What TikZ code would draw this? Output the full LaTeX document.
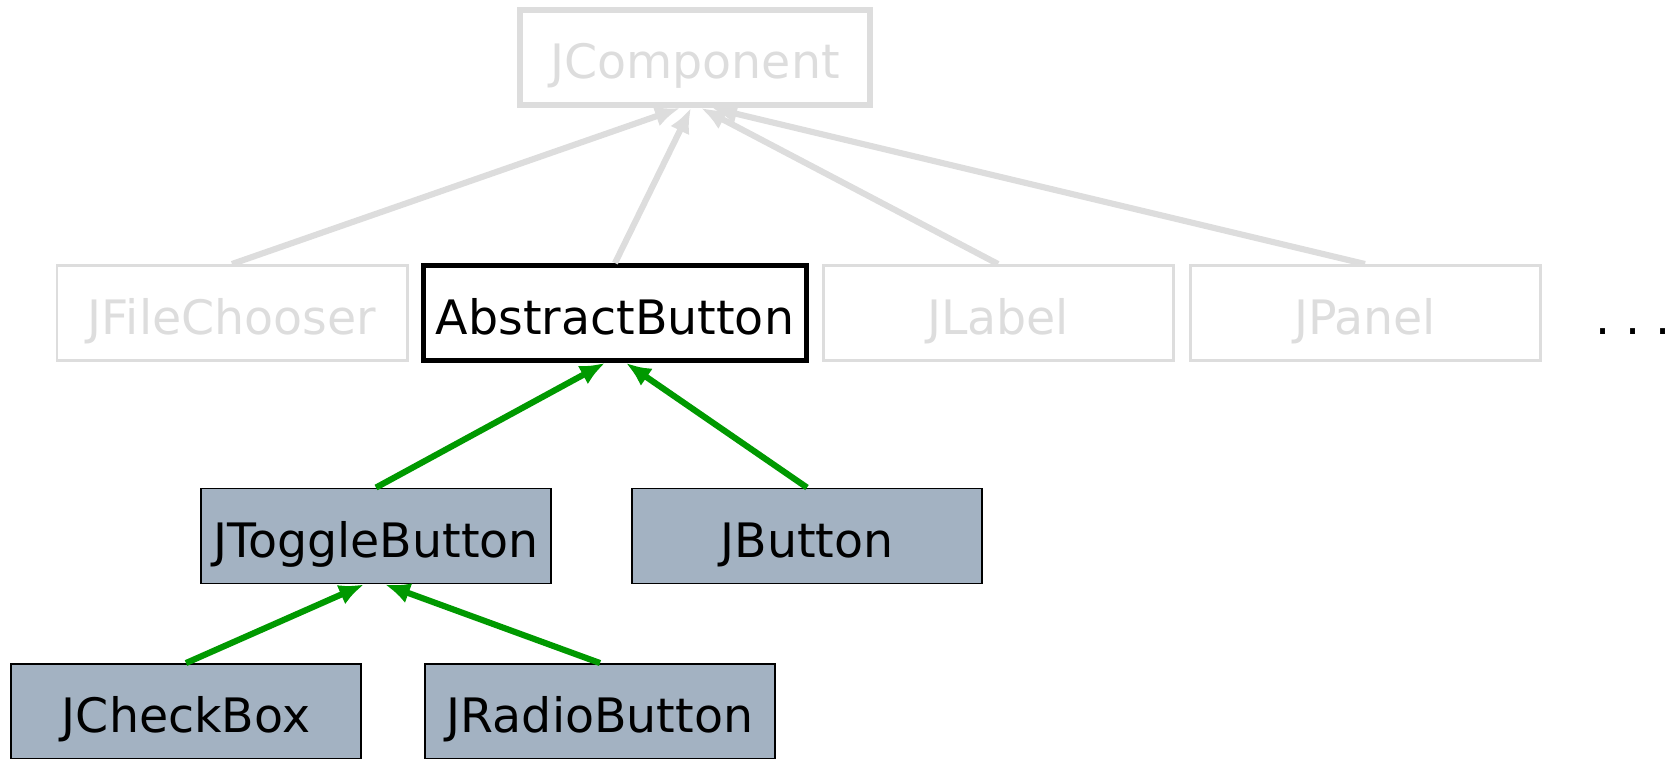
\documentclass[tikz,border=0pt]{standalone}
\usepackage{fontspec}
\setmainfont{DejaVu Sans}
\usetikzlibrary{arrows.meta}
\definecolor{faded}{RGB}{221,221,221}
\definecolor{swing}{RGB}{163,178,194}
\definecolor{isa}{RGB}{0,153,0}

\begin{document}
\begin{tikzpicture}[x=0.2mm, y=-0.2mm,
    font=\fontsize{27}{30}\selectfont,
    box/.style={draw, rectangle, minimum width=7cm, minimum height=1.9cm,
      inner sep=0pt, text height=24pt, text depth=0pt},
    other/.style={box, draw=faded, text=faded, line width=1.7pt},
    swingbox/.style={box, fill=swing, line width=1.1pt},
    up/.style={-{Latex[length=0.5cm, width=0.42cm]}, line width=3.5pt}]
    \useasboundingbox (0,0) rectangle (1679,758);
    \clip (0,0) rectangle (1679,758);

    \node [other, line width=3.4pt] (jcomp) at (695,57.5) {JComponent};
    \node [other] (chooser) at (232,313) {JFileChooser};
    \node [box, line width=2.8pt, minimum width=7.66cm] (abstract) at (615,313) {AbstractButton};
    \node [other] (label) at (998,313) {JLabel};
    \node [other] (panel) at (1365,313) {JPanel};
    \node [anchor=base] (more) at (1633,334) {.\ .\ .};
    \node [swingbox] (toggle) at (376,536) {JToggleButton};
    \node [swingbox] (button) at (807,536) {JButton};
    \node [swingbox] (check) at (186,711.5) {JCheckBox};
    \node [swingbox] (radio) at (600,711.5) {JRadioButton};

    \draw [up, faded] (chooser.north) -- ([xshift=-3mm]jcomp.south);
    \draw [up, faded] (abstract.north) -- ([xshift=-0.8mm]jcomp.south);
    \draw [up, faded] (label.north) -- ([xshift=1.2mm]jcomp.south);
    \draw [up, faded] (panel.north) -- ([xshift=3.4mm]jcomp.south);
    \draw [up, isa] (toggle.north) -- ([xshift=-2mm]abstract.south);
    \draw [up, isa] (button.north) -- ([xshift=2.2mm]abstract.south);
    \draw [up, isa] (check.north) -- ([xshift=-2.4mm]toggle.south);
    \draw [up, isa] (radio.north) -- ([xshift=1.8mm]toggle.south);
\end{tikzpicture}
\end{document}
